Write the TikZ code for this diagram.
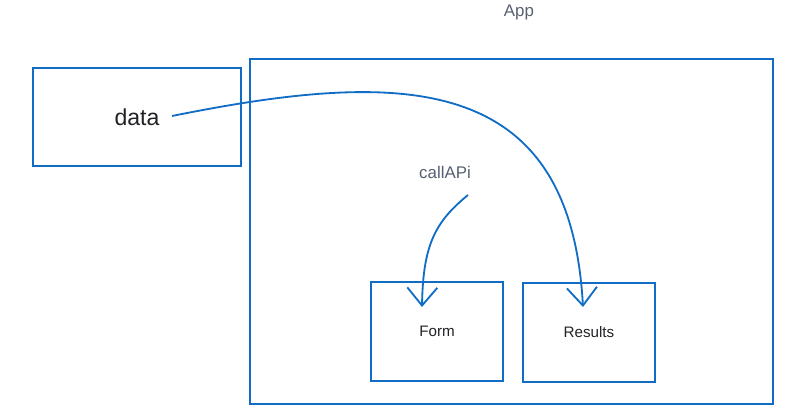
\documentclass[tikz,border=0pt]{standalone}
\usepackage{fontspec}
\setmainfont{Liberation Sans}
\usetikzlibrary{arrows.meta}
\definecolor{sketchblue}{RGB}{16,108,196}
\definecolor{labelgray}{RGB}{88,96,114}
\definecolor{textdark}{RGB}{34,34,38}

\begin{document}
\begin{tikzpicture}
        [x=0.025cm,y=-0.025cm,
         box/.style={draw=sketchblue,line width=1.4pt,text=textdark,inner sep=0pt},
         flow/.style={draw=sketchblue,line width=1.3pt,-{Straight Barb[length=4.5mm,width=7.5mm]}}]

        \useasboundingbox (0,0) rectangle (812,420);

        \node[text=labelgray] (applabel) at (519,12) {\fontsize{12}{14}\selectfont App};
        \node[box,minimum width=13.075cm,minimum height=8.625cm] (app) at (511.5,231.5) {};
        \node[box,minimum width=5.2cm,minimum height=2.45cm] (data) at (137,117) {\fontsize{16.4}{19}\selectfont data};
        \node[text=labelgray] (callapi) at (445,172) {\fontsize{12}{14}\selectfont callAPi};
        \node[box,minimum width=3.3cm,minimum height=2.475cm] (form) at (437,331.5) {\fontsize{10.8}{13}\selectfont Form};
        \node[box,minimum width=3.3cm,minimum height=2.475cm] (results) at (589,332.5) {\fontsize{10.8}{13}\selectfont Results};

        \coordinate (dataout) at (172,116);
        \coordinate (callout) at (468,195);
        \coordinate (formin) at (422,307);
        \coordinate (resultsin) at (583,307);

        \draw[flow] (dataout) .. controls (400,70) and (570,70) .. (resultsin);
        \draw[flow] (callout) .. controls (435,222) and (423,245) .. (formin);
    \end{tikzpicture}
\end{document}
